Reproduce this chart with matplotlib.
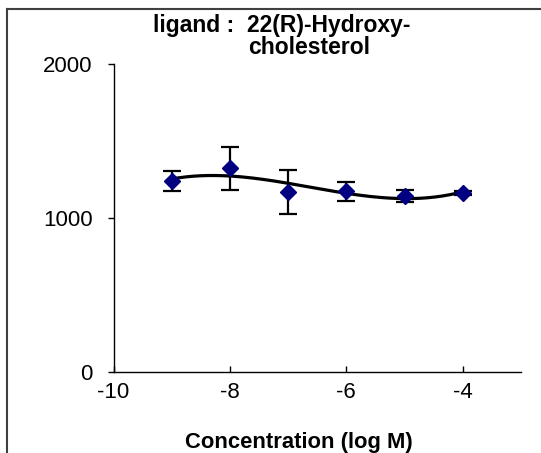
import numpy as np
import matplotlib.pyplot as plt
from matplotlib.lines import Line2D

# ===============================
# DATA
# ===============================
log_conc = [-9, -8, -7, -6, -5, -4]
signal = [1240, 1323, 1170, 1174, 1142, 1164]
signal_err = [67, 139, 143, 61, 38, 12]

x_ticks = [-10, -8, -6, -4]
y_ticks = [0, 1000, 2000]

W, H = 541, 453

plt.rcParams["font.family"] = ["Liberation Sans", "DejaVu Sans"]
plt.rcParams["axes.unicode_minus"] = False

fig = plt.figure(figsize=(W / 100, H / 100), dpi=100)
ax = fig.add_axes([113.5 / W, (H - 372.3) / H, (521 - 113.5) / W, (372.3 - 64) / H])

# trendline (3rd order polynomial, as in the original sheet)
coef = np.polyfit(log_conc, signal, 3)
xs = np.linspace(log_conc[0], log_conc[-1], 200)
ax.plot(xs, np.polyval(coef, xs), color="black", lw=2.3, zorder=2)

ax.errorbar(log_conc, signal, yerr=signal_err, fmt="none", ecolor="black",
            elinewidth=1.6, capsize=6.5, capthick=1.6, zorder=3)
ax.plot(log_conc, signal, "D", color="#000080", markersize=8, zorder=4)

ax.set_xlim(-10, -3)
ax.set_ylim(0, 2000)
ax.set_xticks(x_ticks)
ax.set_yticks(y_ticks)
ax.spines["top"].set_visible(False)
ax.spines["right"].set_visible(False)
ax.spines["left"].set_linewidth(1)
ax.spines["bottom"].set_linewidth(1)
ax.tick_params(axis="x", direction="in", length=4, width=1, labelsize=16, pad=7)
ax.tick_params(axis="y", direction="out", length=4, width=1, labelsize=16, pad=11)

# ===============================
# TEXT
# ===============================
fig.text(282 / W, (H - 32) / H, "ligand :  22(R)-Hydroxy-", ha="center",
         va="baseline", fontsize=16.5, fontweight="bold")
fig.text(309 / W, (H - 54) / H, "cholesterol", ha="center",
         va="baseline", fontsize=16.5, fontweight="bold")
fig.text(298.5 / W, (H - 448) / H, "Concentration (log M)", ha="center",
         va="baseline", fontsize=15.8, fontweight="bold")

# outer frame (clipped on right and bottom)
fig.add_artist(Line2D([7 / W, 7 / W], [0, (H - 9) / H], color="#404040", lw=1.5))
fig.add_artist(Line2D([7 / W, 1], [(H - 9) / H, (H - 9) / H], color="#404040", lw=1.5))

fig.savefig("out.png", dpi=100)
